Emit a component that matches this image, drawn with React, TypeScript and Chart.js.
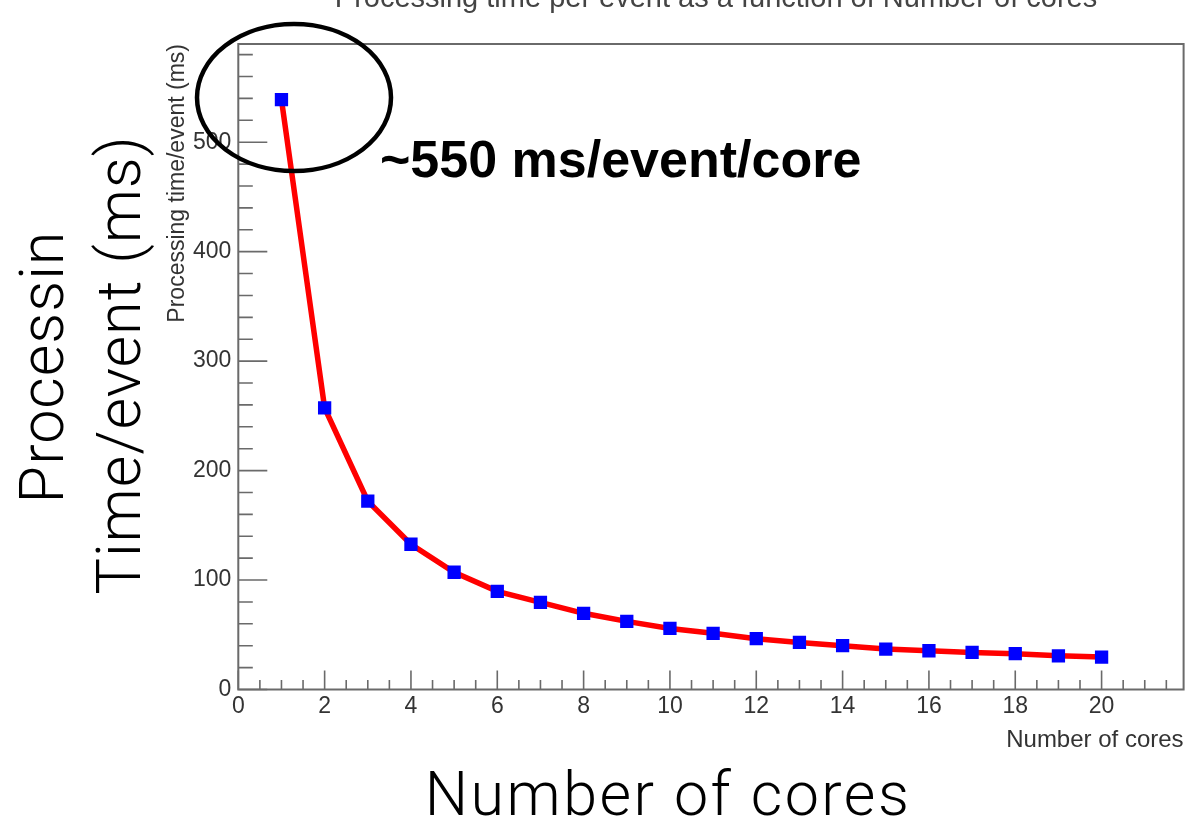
import React, { useEffect, useRef } from "react";
import { Chart, registerables } from "chart.js";

Chart.register(...registerables);

// ---- data ----
const cores = [1, 2, 3, 4, 5, 6, 7, 8, 9, 10, 11, 12, 13, 14, 15, 16, 17, 18, 19, 20];
const timePerEvent = [
  538.8, 257.2, 172.1, 132.7, 107.1, 89.7, 79.6, 69.6, 62.2, 55.8,
  51.3, 46.4, 43.0, 40.0, 36.9, 35.4, 33.9, 32.7, 30.8, 29.6,
];
const xTickValues = [0, 2, 4, 6, 8, 10, 12, 14, 16, 18, 20];
const yTickValues = [0, 100, 200, 300, 400, 500];
const xMin = 0;
const xMax = 21.9;
const yMin = 0;
const yMax = 589.7;
const xMinorStep = 0.5;
const yMinorStep = 20;

// ---- text ----
const plotTitle = "Processing time per event as a function of Number of cores";
const xAxisTitle = "Number of cores";
const yAxisTitle = "Processing time/event (ms)";
const bigYLabel = ["Processin", "Time/event (ms)"];
const bigXLabel = "Number of cores";
const annotationText = "~550 ms/event/core";

const rootFont = "Liberation Sans";
const bigFont = "Roboto, Lato, 'Open Sans', sans-serif";

const framePlugin = {
  id: "rootFrame",
  beforeDatasetsDraw(chart: any) {
    const { ctx, chartArea, scales } = chart;
    const xs = scales.x;
    const ys = scales.y;
    ctx.save();
    ctx.strokeStyle = "#6a6a6a";
    ctx.lineWidth = 2;
    ctx.strokeRect(chartArea.left, chartArea.top, chartArea.right - chartArea.left, chartArea.bottom - chartArea.top);
    ctx.lineWidth = 1.6;
    ctx.beginPath();
    for (let v = xMin; v <= xMax + 1e-9; v += xMinorStep) {
      const px = xs.getPixelForValue(v);
      const major = Math.abs(v / 2 - Math.round(v / 2)) < 1e-9;
      const len = major ? 19 : 9.5;
      ctx.moveTo(px, chartArea.bottom);
      ctx.lineTo(px, chartArea.bottom - len);
    }
    for (let v = yMin; v <= yMax + 1e-9; v += yMinorStep) {
      const py = ys.getPixelForValue(v);
      const major = v % 100 === 0;
      const len = major ? 29 : 14.5;
      ctx.moveTo(chartArea.left, py);
      ctx.lineTo(chartArea.left + len, py);
    }
    ctx.stroke();
    ctx.restore();
  },
};

const annotationPlugin = {
  id: "annotations",
  afterDraw(chart: any) {
    const { ctx } = chart;
    ctx.save();
    ctx.fillStyle = "#444";
    ctx.font = `29px "${rootFont}"`;
    ctx.textAlign = "center";
    ctx.textBaseline = "alphabetic";
    ctx.fillText(plotTitle, 716, 7);

    ctx.strokeStyle = "#000";
    ctx.lineWidth = 4.5;
    ctx.beginPath();
    ctx.ellipse(294, 97.5, 97, 73.5, 0, 0, Math.PI * 2);
    ctx.stroke();

    ctx.fillStyle = "#000";
    ctx.font = `bold 52px "${rootFont}"`;
    ctx.textAlign = "left";
    ctx.fillText(annotationText, 380, 177);

    ctx.font = `300 61px ${bigFont}`;
    ctx.textAlign = "center";
    (ctx as any).letterSpacing = "1px";
    ctx.save();
    ctx.translate(63, 367);
    ctx.rotate(-Math.PI / 2);
    ctx.fillText(bigYLabel[0], 0, 0);
    ctx.restore();
    ctx.save();
    ctx.translate(140, 365);
    ctx.rotate(-Math.PI / 2);
    ctx.fillText(bigYLabel[1], 0, 0);
    ctx.restore();
    (ctx as any).letterSpacing = "2.5px";
    ctx.fillText(bigXLabel, 668, 815);
    (ctx as any).letterSpacing = "0px";
    ctx.restore();
  },
};

export default function App() {
  const ref = useRef<HTMLCanvasElement>(null);
  useEffect(() => {
    const tickFont = { family: rootFont, size: 23 };
    const chart = new Chart(ref.current as HTMLCanvasElement, {
      type: "scatter",
      data: {
        datasets: [
          {
            data: cores.map((c, i) => ({ x: c, y: timePerEvent[i] })),
            showLine: true,
            borderColor: "#ff0000",
            borderWidth: 5.5,
            tension: 0,
            pointStyle: "rect",
            pointRadius: 9.4,
            pointBackgroundColor: "#0000ff",
            pointBorderColor: "#0000ff",
            pointBorderWidth: 0,
          } as any,
        ],
      },
      options: {
        animation: false,
        responsive: false,
        devicePixelRatio: 1,
        layout: { padding: { left: 164.2, top: 44, right: 4, bottom: 68 } },
        plugins: {
          legend: { display: false },
          tooltip: { enabled: false },
          title: { display: false },
        },
        scales: {
          x: {
            type: "linear",
            min: xMin,
            max: xMax,
            grid: { display: false, drawTicks: false },
            border: { display: false },
            afterBuildTicks: (s: any) => {
              s.ticks = xTickValues.map((v) => ({ value: v }));
            },
            afterFit: (s: any) => {
              s.height = 65.5;
            },
            ticks: {
              font: tickFont,
              color: "#333",
              padding: 3,
              maxRotation: 0,
              minRotation: 0,
              autoSkip: false,
            },
            title: {
              display: true,
              text: xAxisTitle,
              align: "end",
              font: { family: rootFont, size: 24 },
              color: "#333",
              padding: { top: 0, bottom: 0 },
            },
          },
          y: {
            type: "linear",
            min: yMin,
            max: yMax,
            grid: { display: false, drawTicks: false },
            border: { display: false },
            afterBuildTicks: (s: any) => {
              s.ticks = yTickValues.map((v) => ({ value: v }));
            },
            afterFit: (s: any) => {
              s.width = 74.1;
            },
            ticks: {
              font: tickFont,
              color: "#333",
              padding: 7,
              autoSkip: false,
            },
            title: {
              display: true,
              text: yAxisTitle,
              align: "end",
              font: tickFont,
              color: "#333",
              padding: { top: 0, bottom: 0 },
            },
          },
        },
      } as any,
      plugins: [framePlugin, annotationPlugin],
    });
    return () => chart.destroy();
  }, []);
  return (
    <div style={{ position: "fixed", left: 0, top: 0, width: 1193, height: 823, background: "#fff" }}>
      <canvas ref={ref} width={1193} height={823} style={{ display: "block" }} />
    </div>
  );
}
